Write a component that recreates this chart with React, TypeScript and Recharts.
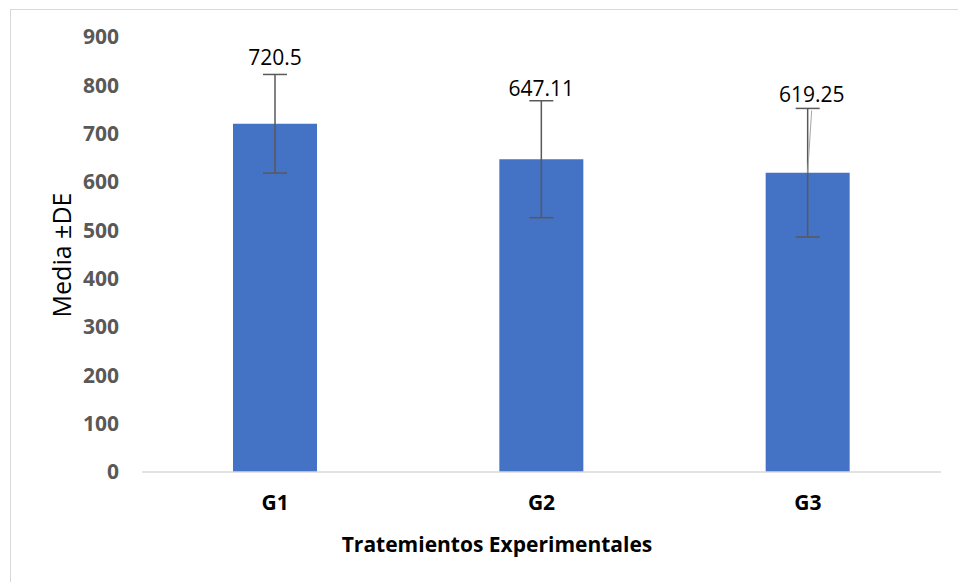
import { Bar, BarChart, ErrorBar, LabelList, XAxis, YAxis } from "recharts";

const groups = ["G1", "G2", "G3"];
const means = [720.5, 647.11, 619.25];
const deviations = [102, 121, 133];
const yTicks = [0, 100, 200, 300, 400, 500, 600, 700, 800, 900];

const data = groups.map((g, i) => ({ name: g, media: means[i], sd: deviations[i] }));

// small manual nudges for the value labels, like the hand-placed ones in the original
const labelDx = [0, 0, 4];
const labelGap = [17, 13, 14];

const font = "'Open Sans', sans-serif";

function ValueLabel(props: any) {
  const { x, y, width, height, value, index } = props;
  const perUnit = height / value;
  const top = y - deviations[index] * perUnit;
  const cx = x + width / 2;
  const lx = cx + labelDx[index];
  const ly = top - labelGap[index];
  return (
    <g>
      {index === 2 && (
        <line x1={lx} y1={ly + 16} x2={cx} y2={y} stroke="#a6a6a6" strokeWidth={1} />
      )}
      <text
        x={lx}
        y={ly}
        textAnchor="middle"
        dominantBaseline="central"
        fontFamily={font}
        fontSize={21}
        fill="#000"
      >
        {value}
      </text>
    </g>
  );
}

export default function App() {
  return (
    <div style={{ position: "absolute", left: 0, top: 0, width: 958, height: 582, background: "#fff", overflow: "hidden" }}>
      <div
        style={{
          position: "absolute",
          left: 10,
          top: 9,
          width: 960,
          height: 600,
          borderLeft: "1.5px solid #d9d9d9",
          borderTop: "1.5px solid #d9d9d9",
        }}
      />
      <BarChart
        width={958}
        height={582}
        data={data}
        margin={{ top: 37, right: 17, bottom: 80, left: 0 }}
        style={{ position: "absolute", left: 0, top: 0 }}
      >
        <XAxis
          dataKey="name"
          height={30}
          tickLine={false}
          tickSize={0}
          tickMargin={23}
          axisLine={{ stroke: "#d9d9d9", strokeWidth: 1.5 }}
          tick={{ fontFamily: font, fontSize: 21, fontWeight: 700, fill: "#000" }}
        />
        <YAxis
          width={142}
          domain={[0, 900]}
          ticks={yTicks}
          axisLine={false}
          tickLine={false}
          tickSize={0}
          tickMargin={23}
          tick={{ fontFamily: font, fontSize: 21, fontWeight: 700, fill: "#595959" }}
        />
        <Bar dataKey="media" fill="#4472C4" barSize={84} isAnimationActive={false}>
          <ErrorBar dataKey="sd" width={12} stroke="#595959" strokeWidth={1.5} direction="y" />
          <LabelList dataKey="media" content={ValueLabel} />
        </Bar>
        <text
          x={61}
          y={255}
          transform="rotate(-90, 61, 255)"
          textAnchor="middle"
          dominantBaseline="central"
          fontFamily={font}
          fontSize={25}
          fill="#000"
        >
          Media ±DE
        </text>
        <text x={497} y={552} textAnchor="middle" fontFamily={font} fontSize={21} fontWeight={700} fill="#000">
          Tratemientos Experimentales
        </text>
      </BarChart>
    </div>
  );
}
